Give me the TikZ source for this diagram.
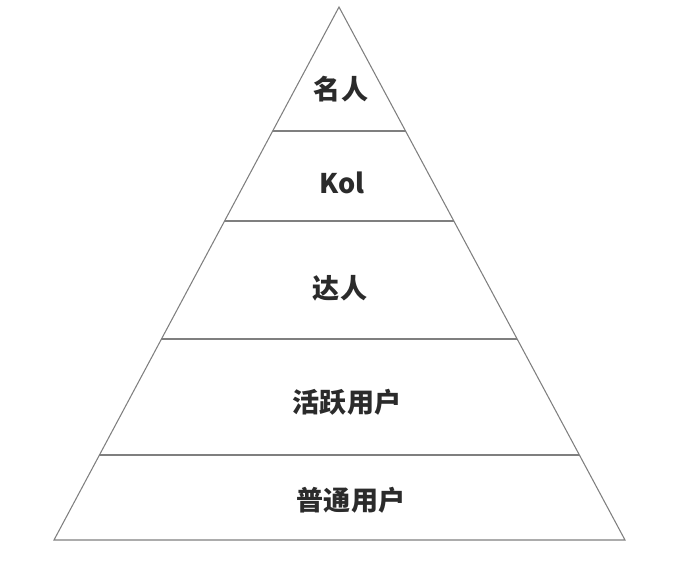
\documentclass[tikz,border=0pt]{standalone}
\usepackage{fontspec}
\usepackage{xcolor}
\usepackage{tikz}
\usetikzlibrary{calc}
\newfontfamily\cjk{Noto Sans CJK SC}
\definecolor{edgegray}{HTML}{7F7F7F}
\definecolor{labelgray}{HTML}{2B2B2B}
\tikzset{
  tier/.style={font=\cjk\bfseries\fontsize{15.4}{18}\selectfont, text=labelgray, inner sep=0pt},
  rim/.style={draw=edgegray, line width=0.6pt}
}
\begin{document}
\begin{tikzpicture}[x=0.02cm,y=-0.02cm]
			\useasboundingbox (0,0) rectangle (697,567);
			
			% khung tam giác
			\coordinate (top) at (339,7);
			\coordinate (bl)  at (54,540);
			\coordinate (br)  at (625,540);
			\draw[rim] (top) -- (bl) -- (br) -- cycle;
			
			% các vạch ngang chia tầng
			\foreach \y in {131,221,339,455} {
				\draw[rim] ($(top)!{(\y-7)/533}!(bl)$) -- ($(top)!{(\y-7)/533}!(br)$);
			}
			
			% nhãn từng tầng
			\node[tier] (famous) at (341,89)  {名人};
			\node[tier] (kol)    at (342,183) {Kol};
			\node[tier] (expert) at (340,288) {达人};
			\node[tier] (active) at (347,402) {活跃用户};
			\node[tier] (common) at (351,500) {普通用户};
		\end{tikzpicture}
\end{document}
